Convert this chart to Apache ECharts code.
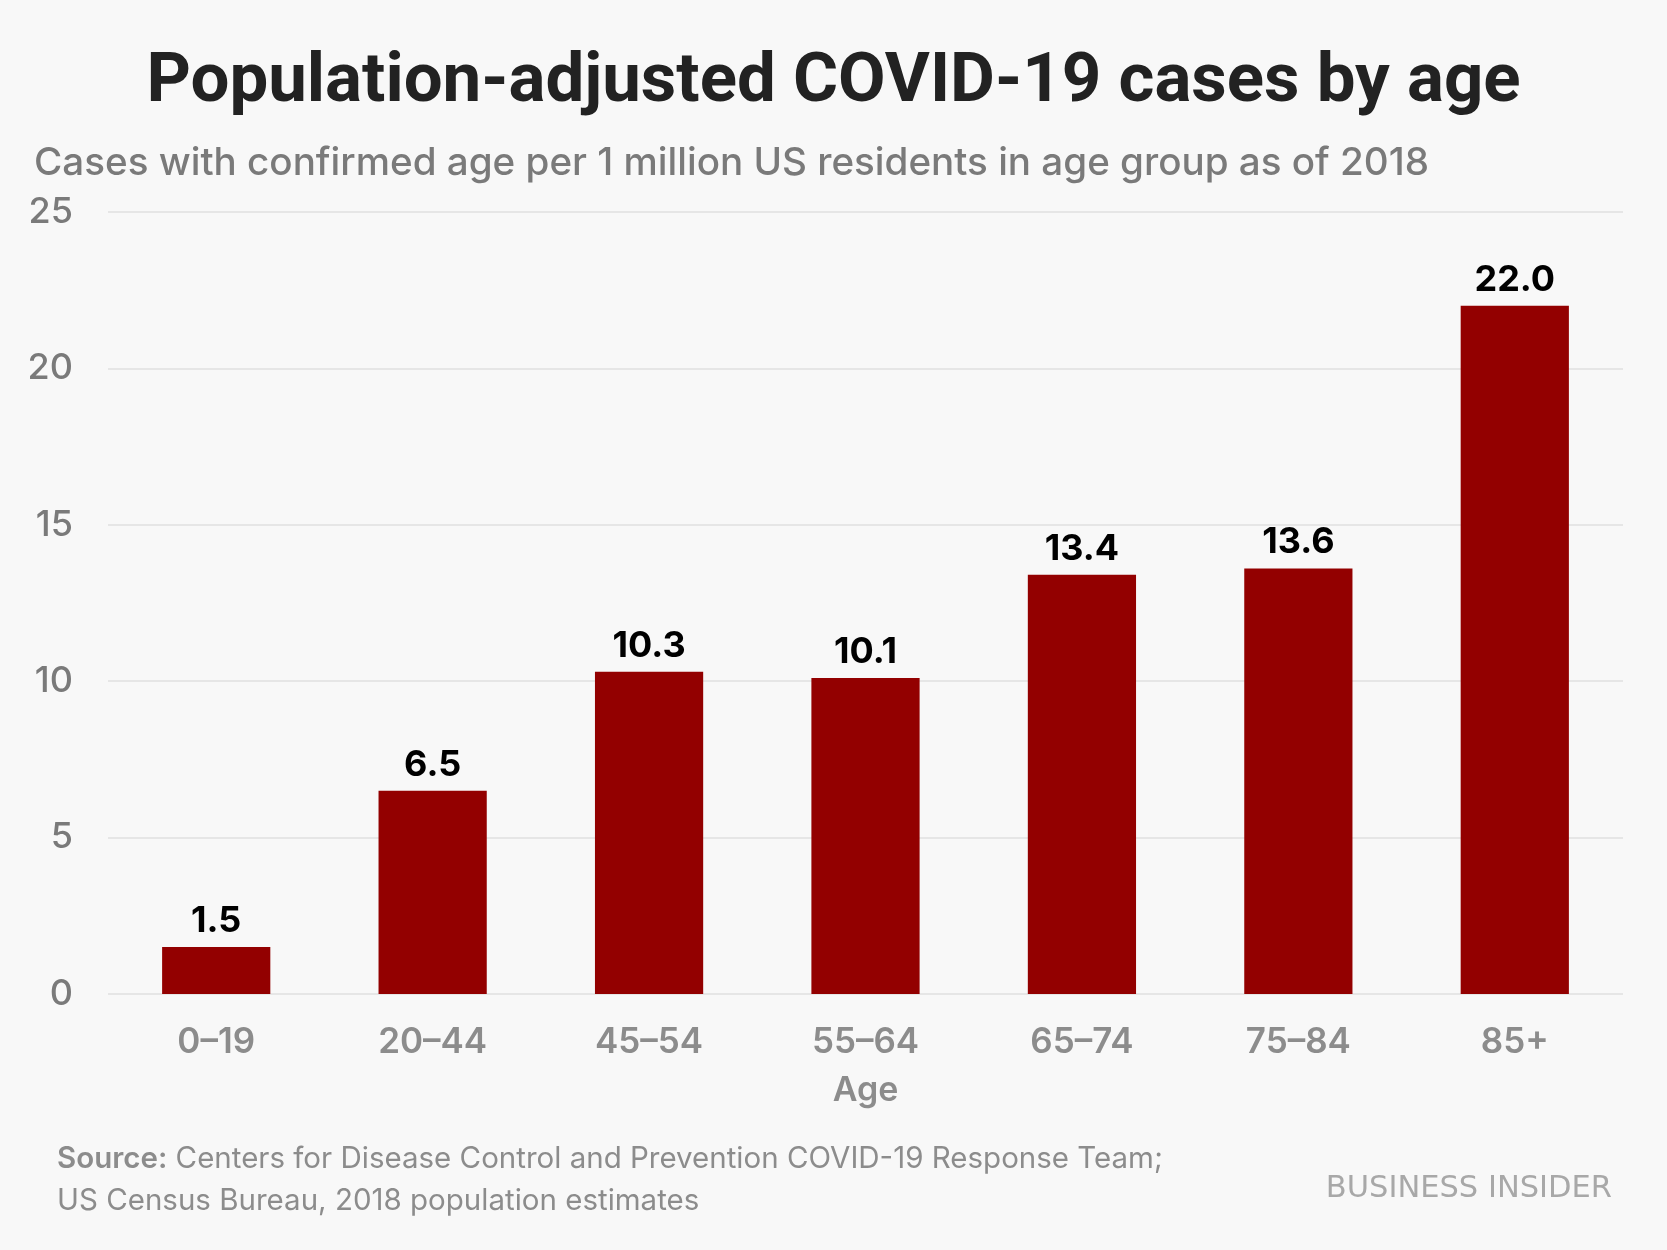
<!DOCTYPE html>
<html>
<head>
<meta charset="utf-8">
<title>Population-adjusted COVID-19 cases by age</title>
<script src="https://cdn.jsdelivr.net/npm/echarts@6/dist/echarts.min.js"></script>
<style>
  html, body { margin: 0; padding: 0; background: #f8f8f8; }
  #chart { width: 1667px; height: 1250px; }
</style>
</head>
<body>
<div id="chart"></div>
<script>
// 数据
const ageGroups = ["0\u201319", "20\u201344", "45\u201354", "55\u201364", "65\u201374", "75\u201384", "85+"]
const casesPerMillion = [1.5, 6.5, 10.3, 10.1, 13.4, 13.6, 22.0]
const yTicks = [0, 5, 10, 15, 20, 25]

const FONT = "Inter"
const chart = echarts.init(document.getElementById("chart"))

const option = {
  backgroundColor: "#f8f8f8",
  animation: false,
  title: [
    {
      text: "Population-adjusted COVID-19 cases by age",
      left: "center",
      top: 44,
      textStyle: { fontFamily: "Roboto", fontWeight: 700, fontSize: 69, color: "#222222" }
    },
    {
      text: "Cases with confirmed age per 1 million US residents in age group as of 2018",
      left: 29,
      top: 139,
      textStyle: { fontFamily: FONT, fontWeight: 500, fontSize: 38.6, color: "#7a7a7a" }
    },
    {
      text: "{b|Source:} Centers for Disease Control and Prevention COVID-19 Response Team;\nUS Census Bureau, 2018 population estimates",
      left: 52,
      top: 1133,
      textStyle: {
        fontFamily: FONT, fontWeight: 400, fontSize: 29.5, color: "#8c8c8c", lineHeight: 42,
        rich: { b: { fontFamily: FONT, fontWeight: 600, fontSize: 29.5, color: "#8c8c8c", lineHeight: 42 } }
      }
    },
    {
      text: "BUSINESS INSIDER",
      right: 50,
      top: 1169,
      textStyle: { fontFamily: "DejaVu Sans", fontWeight: 400, fontSize: 30.5, color: "#a8a8a8" }
    }
  ],
  grid: { left: 108, right: 44, top: 212, bottom: 256, containLabel: false },
  xAxis: {
    type: "category",
    data: ageGroups,
    axisLine: { show: false },
    axisTick: { show: false },
    axisLabel: { margin: 31, fontFamily: FONT, fontWeight: 600, fontSize: 35, color: "#8c8c8c" },
    name: "Age",
    nameLocation: "middle",
    nameGap: 80,
    nameTextStyle: { fontFamily: FONT, fontWeight: 600, fontSize: 34, color: "#8c8c8c" }
  },
  yAxis: {
    type: "value",
    min: yTicks[0],
    max: yTicks[yTicks.length - 1],
    interval: yTicks[1] - yTicks[0],
    axisLine: { show: false },
    axisTick: { show: false },
    axisLabel: { margin: 35, fontFamily: FONT, fontWeight: 500, fontSize: 36, color: "#7a7a7a" },
    splitLine: { lineStyle: { color: "#e6e6e6", width: 2 } }
  },
  series: [
    {
      type: "bar",
      data: casesPerMillion,
      barWidth: "50%",
      itemStyle: { color: "#930000" },
      label: {
        show: true,
        position: "top",
        distance: 8,
        formatter: (p) => p.value.toFixed(1),
        fontFamily: FONT,
        fontWeight: 700,
        fontSize: 36,
        color: "#000000"
      }
    }
  ]
}

chart.setOption(option)
</script>
</body>
</html>
